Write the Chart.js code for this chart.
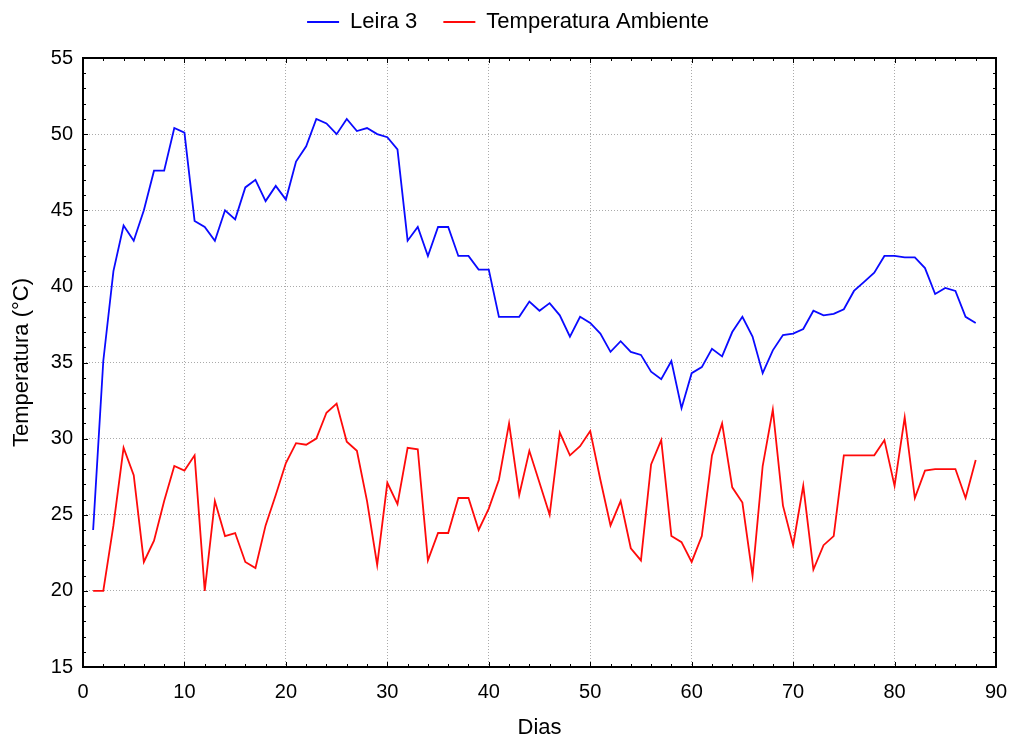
<!DOCTYPE html>
<html>
<head>
<meta charset="utf-8">
<title>Leira 3 x Temperatura Ambiente</title>
<script src="https://cdn.jsdelivr.net/npm/chart.js@4.4.1/dist/chart.umd.min.js"></script>
<style>
  html, body { margin: 0; padding: 0; background: #fff; }
  #wrap { width: 1013px; height: 742px; }
</style>
</head>
<body>
<div id="wrap"><canvas id="grafico" width="1013" height="742"></canvas></div>
<script>
// Dias de compostagem (eixo x)
const dias = [
  1, 2, 3, 4, 5, 6, 7, 8, 9, 10, 11, 12, 13, 14, 15, 16, 17, 18, 19, 20,
  21, 22, 23, 24, 25, 26, 27, 28, 29, 30, 31, 32, 33, 34, 35, 36, 37, 38, 39, 40,
  41, 42, 43, 44, 45, 46, 47, 48, 49, 50, 51, 52, 53, 54, 55, 56, 57, 58, 59, 60,
  61, 62, 63, 64, 65, 66, 67, 68, 69, 70, 71, 72, 73, 74, 75, 76, 77, 78, 79, 80,
  81, 82, 83, 84, 85, 86, 87, 88
];

// Temperatura da leira 3 (°C)
const leira3 = [
  24.0, 35.1, 41.0, 44.0, 43.0, 45.0, 47.6, 47.6, 50.4, 50.1,
  44.3, 43.9, 43.0, 45.0, 44.4, 46.5, 47.0, 45.6, 46.6, 45.7,
  48.2, 49.2, 51.0, 50.7, 50.0, 51.0, 50.2, 50.4, 50.0, 49.8,
  49.0, 43.0, 43.9, 42.0, 43.9, 43.9, 42.0, 42.0, 41.1, 41.1,
  38.0, 38.0, 38.0, 39.0, 38.4, 38.9, 38.1, 36.7, 38.0, 37.6,
  36.9, 35.7, 36.4, 35.7, 35.5, 34.4, 33.9, 35.1, 32.0, 34.3,
  34.7, 35.9, 35.4, 37.0, 38.0, 36.7, 34.3, 35.8, 36.8, 36.9,
  37.2, 38.4, 38.1, 38.2, 38.5, 39.7, 40.3, 40.9, 42.0, 42.0,
  41.9, 41.9, 41.2, 39.5, 39.9, 39.7, 38.0, 37.6
];

// Temperatura ambiente (°C)
const ambiente = [
  20.0, 20.0, 24.3, 29.4, 27.6, 21.9, 23.3, 25.9, 28.2, 27.9,
  28.9, 20.0, 25.9, 23.6, 23.8, 21.9, 21.5, 24.3, 26.3, 28.4,
  29.7, 29.6, 30.0, 31.7, 32.3, 29.8, 29.2, 25.9, 21.7, 27.1,
  25.7, 29.4, 29.3, 22.0, 23.8, 23.8, 26.1, 26.1, 24.0, 25.4,
  27.3, 31.0, 26.3, 29.2, 27.1, 25.0, 30.4, 28.9, 29.5, 30.5,
  27.3, 24.3, 25.9, 22.8, 22.0, 28.3, 29.9, 23.6, 23.2, 21.9,
  23.6, 28.9, 31.0, 26.8, 25.8, 21.0, 28.2, 31.9, 25.6, 23.0,
  26.9, 21.4, 23.0, 23.6, 28.9, 28.9, 28.9, 28.9, 29.9, 26.9,
  31.4, 26.1, 27.9, 28.0, 28.0, 28.0, 26.1, 28.6
];

const fonte = "Arial, 'Liberation Sans', sans-serif";

const pontos = (serie) => dias.map((d, i) => ({ x: d, y: serie[i] }));

// moldura preta + marcas de escala para dentro nos 4 lados
const moldura = {
  id: 'moldura',
  afterDatasetsDraw(chart) {
    const { ctx, chartArea: a, scales: { x, y } } = chart;
    ctx.save();
    ctx.strokeStyle = '#000';
    ctx.lineWidth = 1;
    ctx.beginPath();
    for (let v = x.min; v <= x.max; v += 2) {
      const px = Math.round(x.getPixelForValue(v)) + 0.5;
      const len = v % 10 === 0 ? 5 : 3;
      ctx.moveTo(px, a.bottom); ctx.lineTo(px, a.bottom - len);
      ctx.moveTo(px, a.top); ctx.lineTo(px, a.top + len);
    }
    for (let v = y.min; v <= y.max; v += 1) {
      const py = Math.round(y.getPixelForValue(v)) + 0.5;
      const len = v % 5 === 0 ? 5 : 3;
      ctx.moveTo(a.left, py); ctx.lineTo(a.left + len, py);
      ctx.moveTo(a.right, py); ctx.lineTo(a.right - len, py);
    }
    ctx.stroke();
    ctx.lineWidth = 2;
    ctx.strokeRect(Math.round(a.left), Math.round(a.top),
      Math.round(a.right - a.left), Math.round(a.bottom - a.top));
    ctx.restore();
  }
};

// espaço extra abaixo da legenda
const espacoLegenda = {
  id: 'espacoLegenda',
  beforeInit(chart) {
    const fitOriginal = chart.legend.fit;
    chart.legend.fit = function fit() {
      fitOriginal.bind(chart.legend)();
      this.height += 15;
    };
  }
};

new Chart(document.getElementById('grafico'), {
  type: 'line',
  data: {
    datasets: [{
      label: 'Leira 3',
      data: pontos(leira3),
      borderColor: '#0a0aff',
      backgroundColor: '#0a0aff',
      borderWidth: 1.8,
      pointRadius: 0,
      tension: 0
    }, {
      label: 'Temperatura Ambiente',
      data: pontos(ambiente),
      borderColor: '#ff0a0a',
      backgroundColor: '#ff0a0a',
      borderWidth: 1.8,
      pointRadius: 0,
      tension: 0
    }]
  },
  options: {
    responsive: false,
    animation: false,
    layout: { padding: { top: -15, right: 17, bottom: 0, left: 20 } },
    plugins: {
      tooltip: { enabled: false },
      legend: {
        position: 'top',
        labels: {
          color: '#000',
          font: { family: fonte, size: 22 },
          usePointStyle: true,
          pointStyle: 'line',
          pointStyleWidth: 32,
          padding: 26
        }
      }
    },
    scales: {
      x: {
        type: 'linear',
        min: 0,
        max: 90,
        afterFit: (s) => { s.height = 75; s.paddingLeft = 0; s.paddingRight = 0; },
        ticks: { stepSize: 10, color: '#000', padding: 13, font: { family: fonte, size: 20 } },
        grid: { color: '#aaaaaa', lineWidth: 1, drawTicks: false },
        border: { display: false, dash: [1, 2] },
        title: {
          display: true, text: 'Dias', color: '#000',
          font: { family: fonte, size: 22 }, padding: { top: 0, bottom: 1 }
        }
      },
      y: {
        min: 15,
        max: 55,
        afterFit: (s) => { s.width = 63; },
        ticks: { stepSize: 5, color: '#000', padding: 10, font: { family: fonte, size: 20 } },
        grid: { color: '#aaaaaa', lineWidth: 1, drawTicks: false },
        border: { display: false, dash: [1, 2] },
        title: {
          display: true, text: 'Temperatura (°C)', color: '#000',
          font: { family: fonte, size: 22 }, padding: { top: -11, bottom: 0 }
        }
      }
    }
  },
  plugins: [moldura, espacoLegenda]
});
</script>
</body>
</html>
